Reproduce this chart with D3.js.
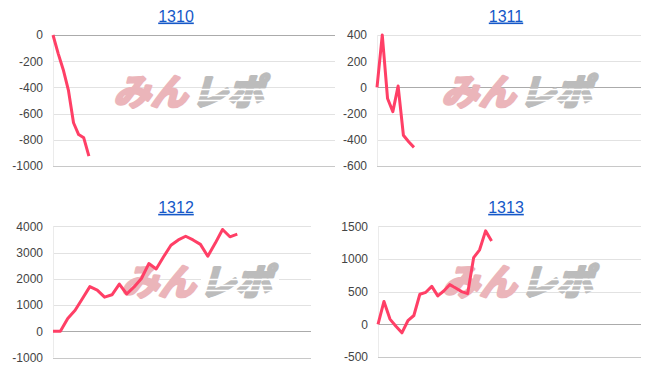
<!DOCTYPE html>
<html>
<head>
<meta charset="utf-8">
<script src="https://cdn.jsdelivr.net/npm/d3@7"></script>
<style>
  body { margin: 0; background: #fff; }
  svg { display: block; }
</style>
</head>
<body>
<svg id="chart" width="653" height="374"></svg>
<script>
// 台番号ごとの差枚推移
const titles = ['1310', '1311', '1312', '1313'];
const values1310 = [0, -140, -265, -420, -670, -760, -785, -925];
const values1311 = [0, 400, -85, -185, 10, -365, -415, -458];
const values1312 = [0, 0, 490, 800, 1250, 1700, 1570, 1300, 1390, 1800, 1420, 1690, 2010, 2580, 2375,
  2840, 3280, 3480, 3620, 3480, 3310, 2860, 3350, 3880, 3600, 3700];
const values1313 = [0, 350, 80, -30, -130, 55, 135, 460, 490, 580, 435, 510, 607, 555, 500, 470, 1020, 1140, 1430, 1275];
const ticks1310 = [0, -200, -400, -600, -800, -1000];
const ticks1311 = [400, 200, 0, -200, -400, -600];
const ticks1312 = [4000, 3000, 2000, 1000, 0, -1000];
const ticks1313 = [1500, 1000, 500, 0, -500];
const xSlots = [55, 50, 35, 44]; // 横軸の目盛り数

const series = [values1310, values1311, values1312, values1313];
const tickSets = [ticks1310, ticks1311, ticks1312, ticks1313];

// 各グラフの配置
const layouts = [
  { left: 53, right: 335, top: 35, bottom: 166, titleX: 176, titleY: 21.5, markX: 115, markY: 78 },
  { left: 377, right: 641, top: 35, bottom: 166, titleX: 506, titleY: 21.5, markX: 443, markY: 78 },
  { left: 53, right: 311, top: 226.3, bottom: 357.5, titleX: 176, titleY: 212.8, markX: 123, markY: 268 },
  { left: 378, right: 641, top: 226.3, bottom: 357, titleX: 506, titleY: 212.8, markX: 444, markY: 268 }
];

const svg = d3.select('#chart');

function drawWatermark(g, x, y) {
  const mark = g.append('g').attr('transform', `translate(${x},${y})`);
  const inner = mark.append('g').attr('transform', 'translate(6,0) skewX(-16)');
  const parts = [
    { text: 'みん', x: 0, w: 74, color: '#ebb5ba' },
    { text: 'レポ', x: 78, w: 72, color: '#bcbcbc' }
  ];
  parts.forEach(p => {
    inner.append('text')
      .attr('x', p.x).attr('y', 27)
      .attr('font-family', '"Noto Sans CJK JP", sans-serif')
      .attr('font-weight', 'bold')
      .attr('font-size', 36)
      .attr('textLength', p.w)
      .attr('lengthAdjust', 'spacingAndGlyphs')
      .attr('fill', p.color)
      .attr('stroke', p.color)
      .attr('stroke-width', 3)
      .attr('stroke-linejoin', 'round')
      .text(p.text);
  });
  // 横線の切れ目
  [11.5, 17.5, 22.5].forEach(sy => {
    mark.append('line')
      .attr('x1', 78).attr('x2', 156)
      .attr('y1', sy).attr('y2', sy)
      .attr('stroke', '#fff')
      .attr('stroke-width', 1.3);
  });
}

series.forEach((values, i) => {
  const L = layouts[i];
  const ticks = tickSets[i];
  const g = svg.append('g');

  const x = d3.scaleLinear().domain([0, xSlots[i]]).range([L.left, L.right]);
  const y = d3.scaleLinear().domain([d3.min(ticks), d3.max(ticks)]).range([L.bottom, L.top]);

  // タイトル
  g.append('text')
    .attr('x', L.titleX)
    .attr('y', L.titleY)
    .attr('text-anchor', 'middle')
    .attr('font-family', 'Arial, "Liberation Sans", sans-serif')
    .attr('font-size', 16)
    .attr('fill', '#1558c8')
    .attr('text-decoration', 'underline')
    .text(titles[i]);

  // 目盛り線
  ticks.forEach(t => {
    let color = '#e2e2e2';
    if (t === 0) color = '#ababab';
    else if (t === d3.min(ticks)) color = '#c8c8c8';
    g.append('line')
      .attr('x1', L.left).attr('x2', L.right)
      .attr('y1', Math.round(y(t)) + 0.5).attr('y2', Math.round(y(t)) + 0.5)
      .attr('stroke', color)
      .attr('stroke-width', 1);
  });

  g.append('line')
    .attr('x1', L.left + 0.5).attr('x2', L.left + 0.5)
    .attr('y1', L.top).attr('y2', L.bottom)
    .attr('stroke', '#ebebeb')
    .attr('stroke-width', 1);

  const axis = d3.axisLeft(y).tickValues(ticks).tickSize(0).tickPadding(10)
    .tickFormat(d => String(d));
  const ag = g.append('g')
    .attr('transform', `translate(${L.left},0)`)
    .call(axis);
  ag.select('.domain').remove();
  ag.selectAll('text')
    .attr('font-family', 'Arial, "Liberation Sans", sans-serif')
    .attr('font-size', 12)
    .attr('fill', '#444');

  drawWatermark(g, L.markX, L.markY);

  const line = d3.line()
    .x((d, j) => x(j))
    .y(d => y(d));

  g.append('path')
    .datum(values)
    .attr('d', line)
    .attr('fill', 'none')
    .attr('stroke', '#ff3f66')
    .attr('stroke-width', 3)
    .attr('stroke-linejoin', 'round');
});
</script>
</body>
</html>
